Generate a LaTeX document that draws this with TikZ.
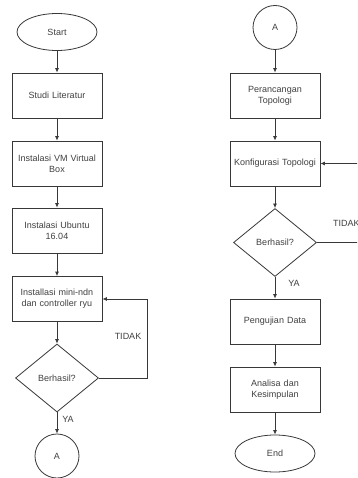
\documentclass[tikz,border=0pt]{standalone}
\usepackage{fontspec}
\setmainfont{Liberation Sans}
\usetikzlibrary{shapes.geometric,arrows.meta}
\definecolor{ln}{HTML}{383838}
\definecolor{tx}{HTML}{404040}
\begin{document}
\begin{tikzpicture}[x=1pt,y=-1pt,
  every node/.style={font=\fontsize{9}{11}\selectfont,text=tx},
  proc/.style={draw=ln,line width=0.8pt,minimum width=90pt,minimum height=45pt,align=center,inner sep=1pt,text width=86pt},
  term/.style={draw=ln,line width=0.8pt,ellipse,minimum width=80pt,minimum height=37pt,inner sep=0pt},
  conn/.style={draw=ln,line width=0.8pt,circle,minimum size=44pt,inner sep=0pt},
  dec/.style={draw=ln,line width=0.8pt,diamond,minimum width=83pt,minimum height=68pt,inner sep=0pt,aspect=1.22},
  arr/.style={draw=ln,line width=0.8pt,-{Latex[length=4.5pt,width=4pt]}},
  lbl/.style={inner sep=0pt}]
\useasboundingbox (0,0) rectangle (357,478);
\clip (0,0) rectangle (357,478);
\fill[white] (0,0) rectangle (357,478);
% left column
\node[term] (start) at (57,32) {Start};
\node[proc] (studi) at (57,95.5) {Studi Literatur};
\node[proc] (vm) at (57,163.5) {Instalasi VM Virtual\\Box};
\node[proc] (ubuntu) at (57,230.5) {Instalasi Ubuntu\\16.04};
\node[proc] (mini) at (57,299) {Installasi mini-ndn\\dan controller ryu};
\node[dec] (d1) at (57,378) {Berhasil?};
\node[conn,minimum size=44pt] (a1) at (57,456) {A};
\coordinate (l1) at (147,378);
\coordinate (l2) at (147,299);
\draw[arr] (start) -- (studi);
\draw[arr] (studi) -- (vm);
\draw[arr] (vm) -- (ubuntu);
\draw[arr] (ubuntu) -- (mini);
\draw[arr] (mini) -- (d1);
\draw[arr] (d1) -- (a1);
\draw[arr] (d1.east) -- (l1) -- (l2) -- (mini.east);
\node[lbl] (t1) at (128,336) {TIDAK};
\node[lbl] (y1) at (68,419) {YA};
% right column
\node[conn] (a2) at (275,27.5) {A};
\node[proc] (peran) at (275,95.5) {Perancangan\\Topologi};
\node[proc] (konf) at (275,163.5) {Konfigurasi Topologi};
\node[dec] (d2) at (275,242.5) {Berhasil?};
\node[proc] (uji) at (275,321.5) {Pengujian Data};
\node[proc] (anal) at (275,389.5) {Analisa dan\\Kesimpulan};
\node[term] (end) at (275,453.5) {End};
\coordinate (r1) at (380,242.5);
\coordinate (r2) at (380,163.5);
\draw[arr] (a2) -- (peran);
\draw[arr] (peran) -- (konf);
\draw[arr] (konf) -- (d2);
\draw[arr] (d2) -- (uji);
\draw[arr] (uji) -- (anal);
\draw[arr] (anal) -- (end);
\draw[arr] (d2.east) -- (r1) -- (r2) -- (konf.east);
\node[lbl,anchor=west] (t2) at (333,223) {TIDAK};
\node[lbl] (y2) at (294,283) {YA};
\end{tikzpicture}
\end{document}
